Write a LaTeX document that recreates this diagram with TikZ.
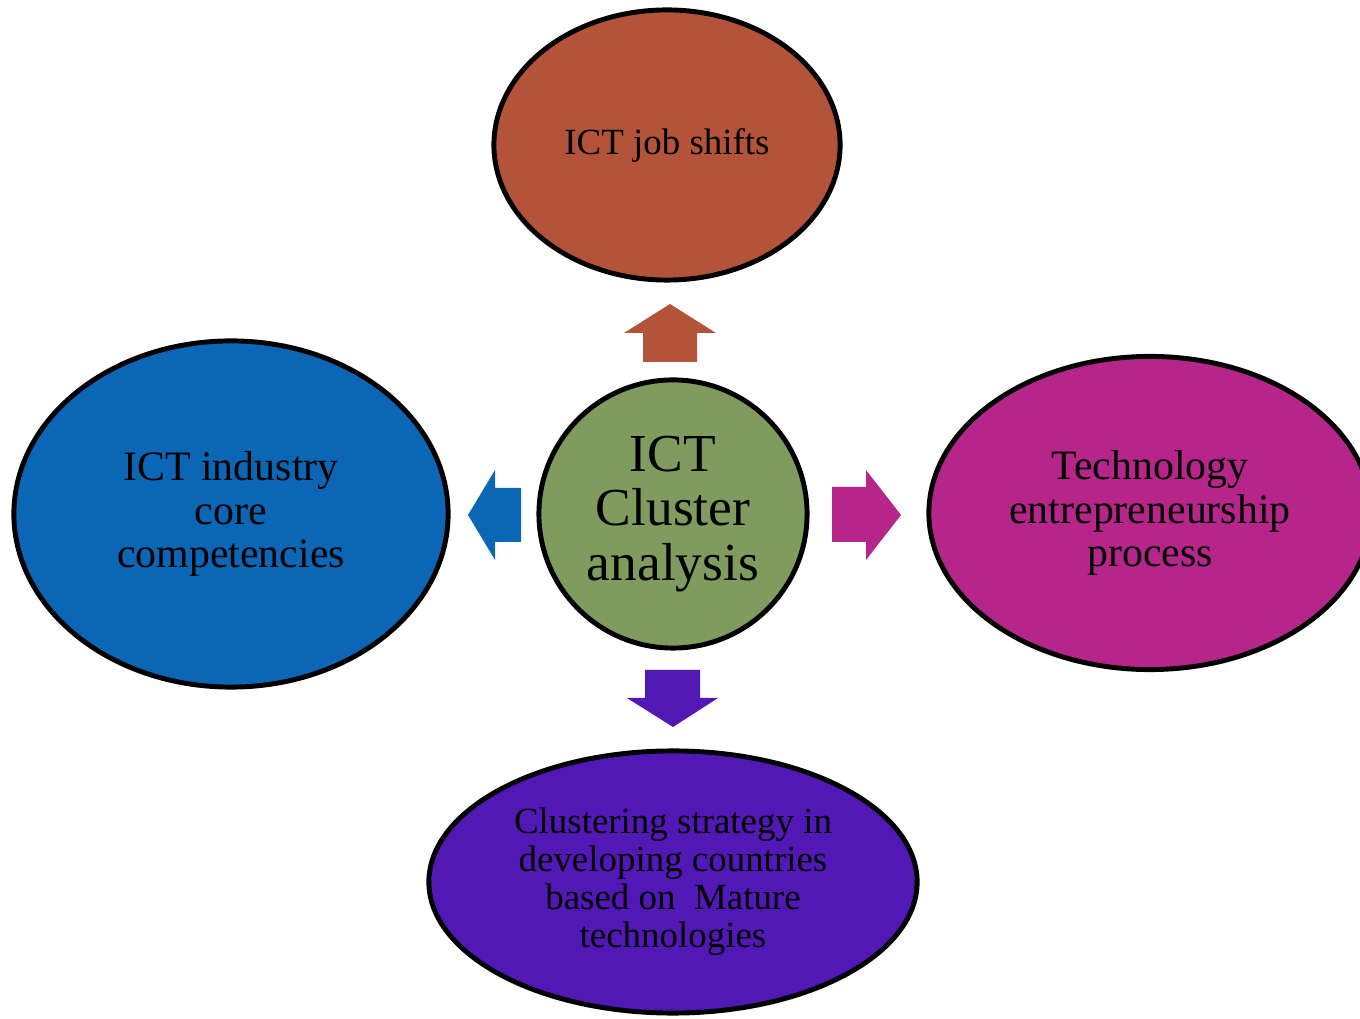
\documentclass[tikz,border=0pt]{standalone}
\usepackage{fontspec}
\setmainfont{Liberation Serif}
\usetikzlibrary{shapes.geometric}

\definecolor{jobred}{HTML}{B3533A}
\definecolor{corblue}{HTML}{0B67B5}
\definecolor{hubgreen}{HTML}{7F9C5E}
\definecolor{entmagenta}{HTML}{B5258A}
\definecolor{strpurple}{HTML}{5218B6}

\begin{document}
\begin{tikzpicture}[
        x=0.01cm, y=-0.01cm,
        bubble/.style={ellipse, draw=black, line width=1.4pt, inner sep=0pt, align=center, text=black},
        small/.style={font=\fontsize{10.5}{10.8}\selectfont},
        mid/.style={font=\fontsize{11.9}{12.3}\selectfont},
        big/.style={font=\fontsize{15.2}{15.4}\selectfont}
    ]
        % Lienzo
        \useasboundingbox (0,0) rectangle (1360,1019);

        % Nodos
        \node[bubble, small, fill=jobred, minimum width=3.46cm, minimum height=2.70cm] (jobs) at (667,145) {ICT job shifts};
        \node[bubble, mid, fill=corblue, minimum width=4.34cm, minimum height=3.46cm] (core) at (231,514) {ICT industry\\core\\competencies};
        \node[bubble, big, fill=hubgreen, minimum width=2.68cm, minimum height=2.68cm] (hub) at (673,514) {ICT\\Cluster\\analysis};
        \node[bubble, mid, fill=entmagenta, minimum width=4.42cm, minimum height=3.13cm] (tech) at (1150,513) {Technology\\entrepreneurship\\process};
        \node[bubble, small, fill=strpurple, minimum width=4.88cm, minimum height=2.62cm] (strat) at (673,882) {Clustering strategy in\\developing countries\\based on~ Mature\\technologies};

        % Flechas
        \fill[jobred] (643,362) -- (643,333) -- (624,333) -- (670,304) -- (716,333) -- (697,333) -- (697,362) -- cycle;
        \fill[corblue] (521,488) -- (495,488) -- (495,470) -- (468,515) -- (495,560) -- (495,542) -- (521,542) -- cycle;
        \fill[entmagenta] (832,487) -- (866,487) -- (866,470) -- (901,515) -- (866,560) -- (866,542) -- (832,542) -- cycle;
        \fill[strpurple] (645,670) -- (700,670) -- (700,698) -- (718,698) -- (673,727) -- (627,698) -- (645,698) -- cycle;

    \end{tikzpicture}
\end{document}
